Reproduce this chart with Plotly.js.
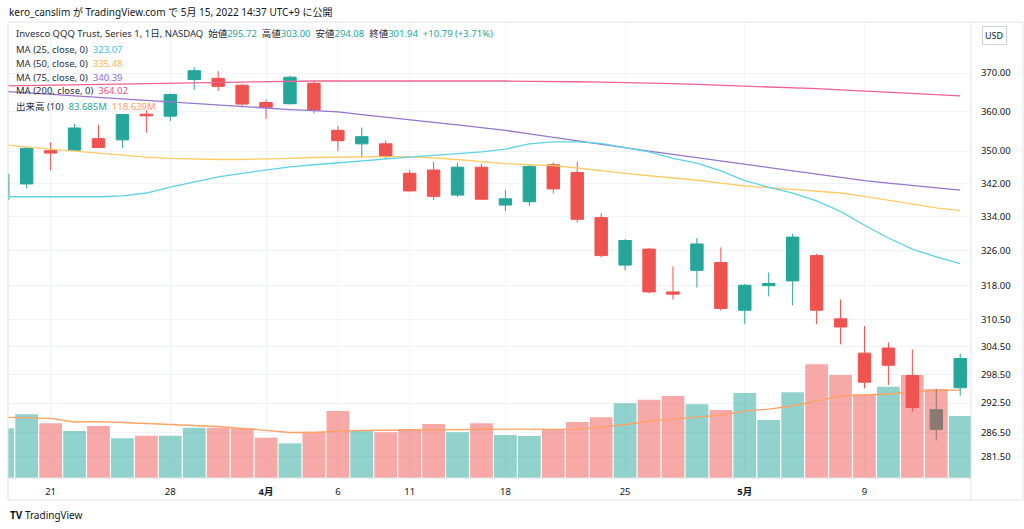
<!DOCTYPE html>
<html>
<head>
<meta charset="utf-8">
<script src="https://cdn.plot.ly/plotly-3.0.1.min.js"></script>
<style>html,body{margin:0;padding:0;background:#fff;}#chart{width:1024px;height:529px;}</style>
</head>
<body>
<div id="chart"></div>
<script>
// ---- data ----
const dates = ['2022-03-17','2022-03-18','2022-03-21','2022-03-22','2022-03-23','2022-03-24','2022-03-25',
  '2022-03-28','2022-03-29','2022-03-30','2022-03-31','2022-04-01','2022-04-04','2022-04-05','2022-04-06',
  '2022-04-07','2022-04-08','2022-04-11','2022-04-12','2022-04-13','2022-04-14','2022-04-18','2022-04-19',
  '2022-04-20','2022-04-21','2022-04-22','2022-04-25','2022-04-26','2022-04-27','2022-04-28','2022-04-29',
  '2022-05-02','2022-05-03','2022-05-04','2022-05-05','2022-05-06','2022-05-09','2022-05-10','2022-05-11',
  '2022-05-12','2022-05-13'];
const openP  = [338.2,341.9,350.1,350.2,353.1,352.8,359.3,358.8,368.3,368.6,366.8,362.3,362.0,367.3,355.2,
  351.8,351.8,344.5,345.3,339.2,346.0,336.8,337.6,346.6,344.7,333.8,322.7,326.4,316.6,321.5,323.3,
  312.5,318.0,319.1,324.9,310.6,303.1,304.2,298.3,287.1,295.72];
const highP  = [344.6,351.0,352.2,356.8,356.6,359.4,360.3,364.6,371.5,370.5,367.1,363.1,369.3,367.9,356.3,
  355.9,352.6,345.3,347.3,347.0,346.8,340.4,346.7,347.2,347.3,334.9,328.7,326.7,322.4,329.0,326.8,
  318.4,321.0,330.0,325.3,314.9,309.0,305.4,303.9,295.5,303.00];
const lowP   = [336.5,340.8,345.3,350.0,350.8,350.8,354.6,357.6,365.5,365.3,361.1,358.1,361.8,359.5,350.0,
  348.4,348.0,340.0,338.0,338.7,338.0,335.4,336.6,339.6,332.6,324.5,321.5,316.3,314.9,317.6,312.4,
  309.4,315.6,313.6,309.4,305.0,295.6,296.3,290.7,284.8,294.08];
const closeP = [344.3,350.7,349.5,355.8,350.9,359.2,358.9,364.4,370.6,366.5,361.9,361.1,368.9,360.4,352.6,
  353.6,348.6,340.2,338.9,346.0,338.2,338.3,346.2,340.7,333.4,324.9,328.4,316.6,316.1,327.6,312.9,
  318.1,318.5,329.2,312.5,308.8,296.9,300.5,291.6,291.15,301.94];
// volume in millions
const volume = [67.1,86.0,73.8,63.4,70.2,53.6,57.1,57.1,67.9,67.9,67.1,54.4,46.8,62.5,90.4,
  63.4,61.7,66.1,72.9,61.7,73.8,58.0,56.7,66.1,75.6,81.9,100.8,105.7,110.7,99.5,91.8,
  114.7,78.3,115.7,153.5,139.0,113.0,123.2,139.0,120.1,83.685];
const volMa10 = [81.9,81.7,80.6,75.6,76.0,74.9,73.6,72.5,71.1,69.5,67.1,64.1,61.4,61.4,63.4,
  64.1,64.4,64.8,65.2,65.5,65.9,66.1,66.1,65.7,66.1,68.8,72.2,76.9,79.6,82.3,85.0,
  90.4,93.1,97.2,103.9,110.7,112.0,113.4,116.1,118.1,118.639];
const ma25 = [338.8,338.8,338.8,338.8,338.8,339.0,339.7,341.1,342.4,343.6,344.5,345.3,346.1,346.6,347.1,
  347.6,348.1,348.5,348.9,349.3,349.8,350.5,351.8,352.3,352.3,351.9,350.9,349.8,348.2,347.0,345.1,
  342.7,341.1,339.7,337.8,335.3,332.0,329.0,326.4,324.6,323.07];
const ma50 = [351.6,351.0,350.5,350.0,349.5,349.0,348.5,348.2,348.0,347.9,347.9,348.0,348.2,348.4,348.5,
  348.6,348.6,348.6,348.3,347.9,347.4,346.9,346.6,346.4,345.8,345.1,344.5,343.9,343.4,342.8,342.1,
  341.4,341.0,340.6,340.2,339.7,338.9,338.0,337.0,336.1,335.48];
const ma75 = [365.2,364.8,364.4,364.0,363.6,363.1,362.7,362.3,361.9,361.5,361.2,360.9,360.5,360.2,359.9,
  359.2,358.5,357.8,357.2,356.6,355.9,355.2,354.3,353.4,352.5,351.6,350.8,350.0,349.2,348.4,347.6,
  346.8,345.9,345.1,344.3,343.5,342.7,342.1,341.5,340.9,340.39];
const ma200 = [366.6,366.7,366.8,366.9,367.1,367.2,367.3,367.4,367.5,367.6,367.7,367.8,367.8,367.9,367.9,
  367.9,368.0,368.0,368.0,368.0,367.9,367.9,367.8,367.8,367.7,367.6,367.5,367.3,367.2,367.0,366.8,
  366.6,366.4,366.1,365.9,365.6,365.3,365.0,364.7,364.3,364.02];
const xTickDates = ['2022-03-21','2022-03-28','2022-04-01','2022-04-06','2022-04-11','2022-04-18','2022-04-25','2022-05-02','2022-05-09'];
const xTickText  = ['21','28','<b>4月</b>','6','11','18','25','<b>5月</b>','9'];
const priceTicks = [281.5,286.5,292.5,298.5,304.5,310.5,318,326,334,342,350,360,370];
const greyCandleDate = '2022-05-12';

// ---- styles ----
const UP = '#26A69A', DOWN = '#EF5350', GREY = '#8A7A74';
const C25 = '#5CD3E6', C50 = '#FFCC66', C75 = '#9575CD', C200 = '#F0628F', CVMA = '#FFA264';
const FONT = 'Noto Sans, Noto Sans CJK JP, sans-serif';
const TXT = '#131722';

const idxMain = dates.map((d,i)=>i).filter(i => dates[i] !== greyCandleDate);
const idxGrey = dates.map((d,i)=>i).filter(i => dates[i] === greyCandleDate);
const pick = (arr, idx) => idx.map(i => arr[i]);

const volColors = closeP.map((c,i) => (i === 0 || c >= closeP[i-1]) ? 'rgba(38,166,154,0.5)' : 'rgba(239,83,80,0.5)');

const traces = [
  {type:'bar', x:dates, y:volume, yaxis:'y', marker:{color:volColors}, hoverinfo:'skip', showlegend:false},
  {type:'scatter', mode:'lines', x:dates, y:volMa10, yaxis:'y', line:{color:CVMA, width:1.3}, hoverinfo:'skip', showlegend:false},
  {type:'scatter', mode:'lines', x:dates, y:ma200, yaxis:'y2', line:{color:C200, width:1.3}, hoverinfo:'skip', showlegend:false},
  {type:'scatter', mode:'lines', x:dates, y:ma75, yaxis:'y2', line:{color:C75, width:1.3}, hoverinfo:'skip', showlegend:false},
  {type:'scatter', mode:'lines', x:dates, y:ma50, yaxis:'y2', line:{color:C50, width:1.3}, hoverinfo:'skip', showlegend:false},
  {type:'scatter', mode:'lines', x:dates, y:ma25, yaxis:'y2', line:{color:C25, width:1.3}, hoverinfo:'skip', showlegend:false},
  {type:'candlestick', x:pick(dates,idxMain), open:pick(openP,idxMain), high:pick(highP,idxMain), low:pick(lowP,idxMain), close:pick(closeP,idxMain),
    yaxis:'y2', increasing:{line:{color:UP, width:1}, fillcolor:UP}, decreasing:{line:{color:DOWN, width:1}, fillcolor:DOWN},
    whiskerwidth:0, hoverinfo:'skip', showlegend:false},
  {type:'candlestick', x:pick(dates,idxGrey), open:pick(openP,idxGrey), high:pick(highP,idxGrey), low:pick(lowP,idxGrey), close:pick(closeP,idxGrey),
    yaxis:'y2', increasing:{line:{color:GREY, width:1}, fillcolor:GREY}, decreasing:{line:{color:GREY, width:1}, fillcolor:GREY},
    whiskerwidth:0, hoverinfo:'skip', showlegend:false}
];

// pixel helpers for the frame text (plot area: x 8..971, y 22..478)
const PX = x => (x - 8) / 963;
const PY = y => (478 - y) / 456;

const n = closeP.length;
const last = n - 1;
const chg = closeP[last] - closeP[last-1];
const pct = chg / closeP[last-1] * 100;
const sp = (c, t) => `<span style="color:${c}">${t}</span>`;
const f2 = v => v.toFixed(2);
const G = '&nbsp;&nbsp;';

const legendLines = [
  `Invesco QQQ Trust, Series 1, 1日, NASDAQ${G}始値${sp(UP,f2(openP[last]))}${G}高値${sp(UP,f2(highP[last]))}${G}安値${sp(UP,f2(lowP[last]))}${G}終値${sp(UP,f2(closeP[last]))}${G}${sp(UP,(chg>=0?'+':'')+f2(chg)+' ('+(pct>=0?'+':'')+f2(pct)+'%)')}`,
  `MA (25, close, 0)${G}${sp('#3FC3DE',f2(ma25[last]))}`,
  `MA (50, close, 0)${G}${sp('#FFB74D',f2(ma50[last]))}`,
  `MA (75, close, 0)${G}${sp('#8C6BD0',f2(ma75[last]))}`,
  `MA (200, close, 0)${G}${sp('#F0507F',f2(ma200[last]))}`,
  `出来高 (10)${G}${sp(UP,volume[last].toFixed(3)+'M')}${G}${sp('#FF9E5E',volMa10[last].toFixed(3)+'M')}`
];
const legendY = [34, 49, 63, 77, 91, 106];

const annotations = legendLines.map((t,i) => ({
  xref:'paper', yref:'paper', x:PX(14), y:PY(legendY[i]), xanchor:'left', yanchor:'middle',
  text:t, showarrow:false, font:{family:FONT, size:9.5, color:'#2A2E39'}
}));
annotations.push({xref:'paper', yref:'paper', x:PX(7), y:PY(12), xanchor:'left', yanchor:'middle',
  text:'kero_canslim が TradingView.com で 5月 15, 2022 14:37 UTC+9 に公開', showarrow:false,
  font:{family:FONT, size:10, color:TXT}});
annotations.push({xref:'paper', yref:'paper', x:PX(994), y:PY(35), xanchor:'center', yanchor:'middle',
  text:'USD', showarrow:false, bgcolor:'#ffffff', bordercolor:'#D1D4DC', borderwidth:1, borderpad:2,
  font:{family:FONT, size:9, color:TXT}});
annotations.push({xref:'paper', yref:'paper', x:PX(8), y:PY(515), xanchor:'left', yanchor:'middle',
  text:'<b>TV</b> TradingView', showarrow:false, font:{family:FONT, size:10, color:TXT}});

const shapes = [
  {type:'rect', xref:'paper', yref:'paper', x0:PX(8), x1:PX(1023), y0:PY(500), y1:PY(22), line:{color:'#E0E3EB', width:1}},
  {type:'line', xref:'paper', yref:'paper', x0:1, x1:1, y0:PY(500), y1:PY(22), line:{color:'#E0E3EB', width:1}},
  {type:'line', xref:'paper', yref:'paper', x0:0, x1:1, y0:0, y1:0, line:{color:'#E0E3EB', width:1}}
];

const layout = {
  width:1024, height:529,
  margin:{l:8, r:53, t:22, b:51},
  paper_bgcolor:'#ffffff', plot_bgcolor:'#ffffff',
  showlegend:false, hovermode:false,
  bargap:0.05, boxgap:0.26,
  font:{family:FONT, size:10, color:TXT},
  xaxis:{type:'category', range:[0.22, 40.45], tickvals:xTickDates, ticktext:xTickText,
    showgrid:true, gridcolor:'#F0F3FA', gridwidth:1, ticks:'outside', ticklen:5, tickcolor:'rgba(0,0,0,0)',
    tickfont:{family:FONT, size:9.5, color:TXT}, showline:false, zeroline:false,
    rangeslider:{visible:false}, fixedrange:true},
  yaxis:{range:[0, 615.5], visible:false, showgrid:false, zeroline:false, fixedrange:true},
  yaxis2:{overlaying:'y', side:'right', anchor:'x', type:'log',
    range:[Math.log10(277.32), Math.log10(383.68)],
    tickvals:priceTicks, ticktext:priceTicks.map(v => v.toFixed(2)),
    showgrid:true, gridcolor:'#F0F3FA', gridwidth:1, zeroline:false, showline:false,
    ticks:'outside', ticklen:7, tickcolor:'rgba(0,0,0,0)',
    tickfont:{family:FONT, size:9.5, color:TXT}, fixedrange:true},
  annotations:annotations,
  shapes:shapes
};

Plotly.newPlot('chart', traces, layout, {staticPlot:true, displayModeBar:false});
</script>
</body>
</html>
